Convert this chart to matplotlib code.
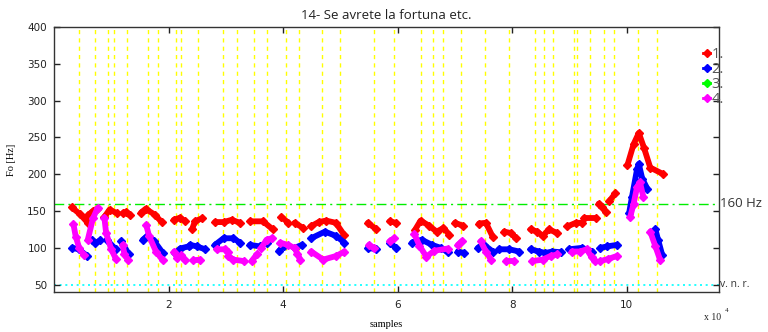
import matplotlib
matplotlib.use("Agg")
import matplotlib.pyplot as plt
from matplotlib.lines import Line2D

# ---- data (x in units of 1e4 samples, y in Hz) ----
title = "14- Se avrete la fortuna etc."
xticks = [2, 4, 6, 8, 10]
yticks = [50, 100, 150, 200, 250, 300, 350, 400]
boundaries = [0.44, 0.72, 0.94, 1.05, 1.27, 1.64, 1.82, 2.13, 2.22, 2.51,
              2.95, 3.19, 3.50, 3.71, 4.05, 4.27, 4.68, 4.99, 5.59, 5.93,
              6.40, 6.62, 6.80, 7.11, 7.53, 7.95, 8.40, 8.55, 8.71, 9.07,
              9.13, 9.36, 9.60, 9.78, 10.20, 10.52]
ref_line = 160
vnr_line = 50

red_segs = [
    [(0.31, 155), (0.45, 146), (0.59, 134)],
    [(0.60, 145), (0.68, 150), (0.75, 153)],
    [(0.88, 142), (0.97, 152), (1.10, 147)],
    [(1.20, 147), (1.26, 149), (1.33, 145)],
    [(1.52, 148), (1.60, 153), (1.76, 145), (1.88, 135)],
    [(2.09, 138), (2.20, 141), (2.29, 136)],
    [(2.41, 125), (2.46, 136), (2.58, 140)],
    [(2.81, 135), (2.96, 135), (3.10, 138), (3.25, 134)],
    [(3.42, 136), (3.65, 136), (3.82, 125)],
    [(3.97, 142), (4.09, 134)],
    [(4.20, 134), (4.35, 127)],
    [(4.48, 129), (4.62, 135), (4.75, 137), (4.92, 134), (5.07, 117)],
    [(5.48, 134), (5.63, 125)],
    [(5.86, 136), (5.97, 134)],
    [(6.30, 124), (6.40, 137), (6.55, 130), (6.68, 122), (6.80, 127), (6.90, 118)],
    [(7.00, 134), (7.14, 130)],
    [(7.42, 133), (7.54, 134), (7.66, 115)],
    [(7.86, 122), (7.98, 120), (8.06, 113)],
    [(8.32, 125), (8.44, 122), (8.53, 116), (8.64, 125), (8.79, 120)],
    [(8.96, 129), (9.11, 134), (9.22, 134)],
    [(9.25, 140), (9.46, 140)],
    [(9.51, 160), (9.57, 156), (9.63, 149)],
    [(9.69, 163), (9.80, 174)],
    [(10.01, 212), (10.12, 241), (10.21, 256), (10.30, 236), (10.41, 209), (10.64, 200)],
]

blue_segs = [
    [(0.32, 100), (0.43, 98), (0.58, 89)],
    [(0.66, 111), (0.72, 106), (0.80, 110)],
    [(0.92, 111), (1.08, 98)],
    [(1.17, 109), (1.31, 91)],
    [(1.55, 111), (1.63, 116), (1.75, 109), (1.90, 93)],
    [(2.12, 93), (2.20, 99), (2.35, 102)],
    [(2.38, 104), (2.49, 102), (2.64, 98)],
    [(2.81, 104), (2.96, 113), (3.13, 113), (3.25, 107)],
    [(3.42, 104), (3.59, 102), (3.71, 107)],
    [(3.93, 96), (4.02, 103)],
    [(4.20, 100), (4.33, 104)],
    [(4.49, 113), (4.73, 122), (4.93, 116), (5.07, 107)],
    [(5.48, 100), (5.63, 98)],
    [(5.86, 107), (5.97, 100)],
    [(6.25, 107), (6.42, 111), (6.60, 104), (6.75, 100), (6.88, 94)],
    [(7.05, 95), (7.16, 93)],
    [(7.40, 100), (7.51, 104), (7.66, 95)],
    [(7.77, 98), (7.95, 98), (8.12, 95)],
    [(8.32, 98), (8.47, 95), (8.58, 93), (8.70, 95), (8.85, 94)],
    [(8.99, 98), (9.22, 100), (9.40, 95)],
    [(9.54, 100), (9.66, 102), (9.83, 104)],
    [(10.04, 147), (10.09, 169), (10.18, 207), (10.21, 214), (10.27, 194), (10.36, 180)],
    [(10.50, 125), (10.55, 110), (10.62, 90)],
]

magenta_segs = [
    [(0.34, 132), (0.38, 115), (0.44, 100), (0.52, 90)],
    [(0.59, 111), (0.68, 140), (0.76, 154)],
    [(0.88, 141), (0.91, 120), (1.00, 98), (1.08, 85)],
    [(1.20, 104), (1.23, 91), (1.29, 84)],
    [(1.61, 131), (1.66, 116), (1.78, 95), (1.90, 83)],
    [(2.10, 95), (2.15, 86), (2.22, 90), (2.28, 84)],
    [(2.43, 83), (2.55, 84)],
    [(2.84, 98), (2.98, 98), (3.04, 95)],
    [(3.04, 89), (3.13, 84), (3.31, 82)],
    [(3.45, 82), (3.54, 91)],
    [(3.62, 100), (3.71, 111), (3.80, 113)],
    [(3.95, 107), (4.08, 104), (4.20, 100), (4.25, 92), (4.30, 84)],
    [(4.49, 95), (4.70, 84), (4.93, 89), (5.07, 95)],
    [(5.50, 104), (5.58, 100)],
    [(5.86, 109), (5.94, 113)],
    [(6.29, 119), (6.38, 103), (6.50, 88), (6.64, 96), (6.87, 99)],
    [(7.05, 104), (7.12, 109)],
    [(7.45, 109), (7.54, 95), (7.63, 84)],
    [(7.89, 82), (8.03, 82)],
    [(8.35, 82), (8.53, 84), (8.67, 89), (8.79, 91)],
    [(9.04, 95), (9.18, 95), (9.30, 98), (9.39, 87), (9.44, 82)],
    [(9.54, 82), (9.68, 85), (9.83, 89)],
    [(10.06, 142), (10.12, 160), (10.18, 183), (10.23, 189), (10.29, 169)],
    [(10.41, 122), (10.50, 102), (10.58, 84)],
]

legend_labels = ["1.", "2.", "3.", "4."]
colors = ["#ff0000", "#0000ff", "#00ff00", "#ff00ff"]

# ---- figure ----
fig = plt.figure(figsize=(7.68, 3.32), dpi=100)
ax = fig.add_axes([54 / 768, 1 - 292 / 332, (719 - 54) / 768, (292 - 27) / 332])

for b in boundaries:
    ax.axvline(b * 1e4, color="#ffff00", lw=1.0, dashes=(3, 3), zorder=1)

ax.axhline(ref_line, color="#00ee00", lw=1.0, dashes=(7, 3, 1.5, 3), zorder=1)
ax.axhline(vnr_line, color="#00ffff", lw=1.2, dashes=(1.2, 2.2), zorder=1)

def draw(segs, col):
    for seg in segs:
        xs = [p[0] * 1e4 for p in seg]
        ys = [p[1] for p in seg]
        ax.plot(xs, ys, color=col, lw=4.2, marker="D", ms=4.5,
                solid_capstyle="round", solid_joinstyle="round", zorder=3)

draw(red_segs, colors[0])
draw(blue_segs, colors[1])
draw(magenta_segs, colors[3])

ax.set_xlim(0, 116100)
ax.set_ylim(40, 400)
ax.set_xticks([t * 1e4 for t in xticks])
ax.set_xticklabels([str(t) for t in xticks])
ax.set_yticks(yticks)
ax.set_yticklabels([str(t) for t in yticks])
ax.tick_params(direction="in", length=4, width=1, top=True, right=True,
               labelsize=7.5, colors="#222222")
ax.tick_params(axis="x", pad=6)
ax.tick_params(axis="y", pad=5)
for s in ax.spines.values():
    s.set_color("#333333")
    s.set_linewidth(1.0)

ax.set_title(title, fontsize=9.5, family="Open Sans", color="#222222", pad=6)
ax.set_xlabel("samples", family="Liberation Serif", fontsize=7.5, labelpad=7)
ax.set_ylabel("Fo [Hz]", family="Liberation Serif", fontsize=7.5, labelpad=8)

# right-side annotations
ax.text(1.002, ref_line, "160 Hz", transform=ax.get_yaxis_transform(),
        fontsize=9.5, family="Open Sans", color="#333333", va="center", ha="left")
ax.text(1.002, vnr_line, "v. n. r.", transform=ax.get_yaxis_transform(),
        fontsize=7.5, family="Open Sans", color="#333333", va="center", ha="left")

fig.text(713 / 768, 1 - 318 / 332, "x 10", fontsize=7, family="Liberation Serif",
         ha="center", va="center", color="#222222")
fig.text(727 / 768, 1 - 311 / 332, "4", fontsize=5, family="Liberation Serif",
         ha="center", va="center", color="#222222")

# legend
handles = [Line2D([], [], color=c, lw=2, marker="D", ms=4.5) for c in colors]
ax.legend(handles, legend_labels, loc="upper left",
          bbox_to_anchor=(649 / 665, 1 - 20 / 265), frameon=False,
          handlelength=0.5, handletextpad=0.1, labelspacing=0.0,
          borderaxespad=0, borderpad=0,
          labelcolor="#555555", prop={"family": "Open Sans", "size": 10.5})

fig.savefig("out.png", dpi=100)
